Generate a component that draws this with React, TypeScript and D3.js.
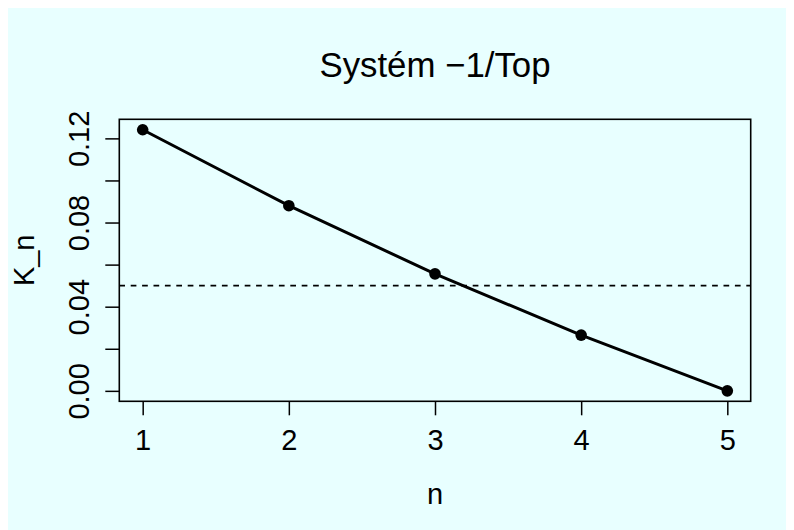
import { useEffect, useRef } from "react";
import * as d3 from "d3";

// Values.
const N_VALUES = [1, 2, 3, 4, 5];
const K_VALUES = [0.1241, 0.088, 0.0556, 0.0265, 0.0];
const Y_TICKS = [0, 0.02, 0.04, 0.06, 0.08, 0.1, 0.12];
const Y_LABELLED = [0, 0.04, 0.08, 0.12];
const THRESHOLD = 0.05;
const TITLE = "Systém \u22121/Top";
const X_TITLE = "n";
const Y_TITLE = "K_n";

const WIDTH = 786;
const HEIGHT = 522;
const BOX = { left: 111.3, right: 742.7, top: 111.3, bottom: 393.3 };
const BG = "#E8FFFF";
const FONT = "'Liberation Sans', Arial, Helvetica, sans-serif";
const FS = 29;

// R pads each axis range by 4% on both sides.
function rDomain(vals: number[]): [number, number] {
    const [min, max] = d3.extent(vals) as [number, number];
    const pad = (max - min) * 0.04;
    return [min - pad, max + pad];
}

export default function App() {
    const svgRef = useRef<SVGSVGElement>(null);

    useEffect(() => {
        const x = d3.scaleLinear().domain(rDomain(N_VALUES)).range([BOX.left, BOX.right]);
        const y = d3.scaleLinear().domain(rDomain(K_VALUES)).range([BOX.bottom, BOX.top]);

        const svg = d3.select(svgRef.current);
        svg.selectAll("*").remove();

        svg.append("rect").attr("width", WIDTH).attr("height", HEIGHT).attr("fill", BG);

        // x axis
        const gx = svg
            .append("g")
            .attr("transform", `translate(0,${BOX.bottom})`)
            .call(d3.axisBottom(x).tickValues(N_VALUES).tickSize(14).tickFormat(d3.format("d")));
        gx.select(".domain").remove();
        gx.selectAll("line").attr("stroke", "#000").attr("stroke-width", 1.5);
        gx.selectAll("text")
            .attr("y", 49.2)
            .attr("dy", null)
            .attr("fill", "#000")
            .style("font-family", FONT)
            .style("font-size", `${FS}px`);

        // y axis, labels parallel to the axis like R's default
        const gy = svg
            .append("g")
            .attr("transform", `translate(${BOX.left},0)`)
            .call(
                d3
                    .axisLeft(y)
                    .tickValues(Y_TICKS)
                    .tickSize(14)
                    .tickFormat((d) => (Y_LABELLED.some((v) => Math.abs(v - Number(d)) < 1e-9) ? d3.format(".2f")(d) : ""))
            );
        gy.select(".domain").remove();
        gy.selectAll("line").attr("stroke", "#000").attr("stroke-width", 1.5);
        gy.selectAll("text")
            .attr("x", null)
            .attr("dy", null)
            .attr("text-anchor", "middle")
            .attr("transform", "translate(-30.3,0) rotate(-90)")
            .attr("fill", "#000")
            .style("font-family", FONT)
            .style("font-size", `${FS}px`);

        // threshold
        svg.append("line")
            .attr("x1", BOX.left)
            .attr("x2", BOX.right)
            .attr("y1", y(THRESHOLD))
            .attr("y2", y(THRESHOLD))
            .attr("stroke", "#000")
            .attr("stroke-width", 1.8)
            .attr("stroke-dasharray", "5.7,5.7");

        const line = d3
            .line<number>()
            .x((_, i) => x(N_VALUES[i]))
            .y((d) => y(d));
        svg.append("path")
            .attr("d", line(K_VALUES))
            .attr("fill", "none")
            .attr("stroke", "#000")
            .attr("stroke-width", 3)
            .attr("stroke-linejoin", "round");

        svg.append("g")
            .selectAll("circle")
            .data(K_VALUES)
            .join("circle")
            .attr("cx", (_, i) => x(N_VALUES[i]))
            .attr("cy", (d) => y(d))
            .attr("r", 5.8)
            .attr("fill", "#000");

        svg.append("rect")
            .attr("x", BOX.left)
            .attr("y", BOX.top)
            .attr("width", BOX.right - BOX.left)
            .attr("height", BOX.bottom - BOX.top)
            .attr("fill", "none")
            .attr("stroke", "#000")
            .attr("stroke-width", 1.6);

        const txt = (s: string, size: number) =>
            svg.append("text").attr("fill", "#000").attr("text-anchor", "middle").style("font-family", FONT).style("font-size", `${size}px`).text(s);

        const cx = (BOX.left + BOX.right) / 2;
        const cy = (BOX.top + BOX.bottom) / 2;
        txt(TITLE, FS * 1.2).attr("x", cx).attr("y", 69);
        txt(X_TITLE, FS).attr("x", cx).attr("y", 496);
        txt(Y_TITLE, FS).attr("transform", `translate(25.5,${cy}) rotate(-90)`);
    }, []);

    return <svg ref={svgRef} width={WIDTH} height={HEIGHT} style={{ display: "block" }} role="img" aria-label={TITLE} />;
}
